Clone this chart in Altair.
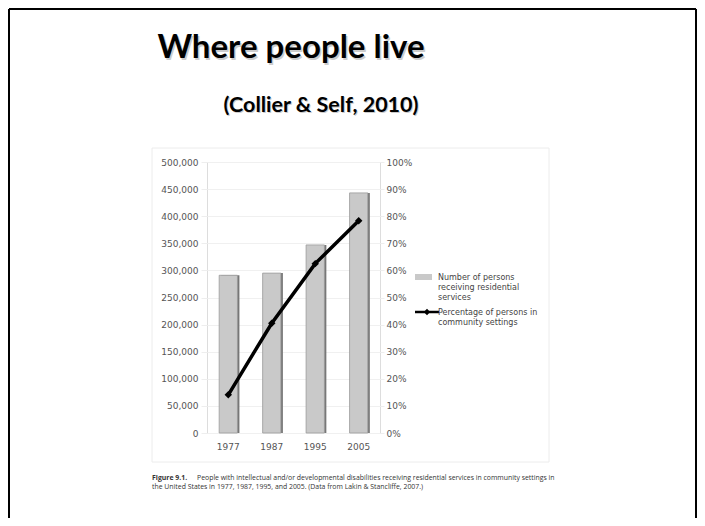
import altair as alt
import pandas as pd

years = ["1977", "1987", "1995", "2005"]
persons = [291000, 295000, 347000, 443000]
percent = [14.1, 40.5, 62.5, 78.3]

title_text = "Where people live"
subtitle_text = "(Collier & Self, 2010)"
legend_labels = [["Number of persons", "receiving residential", "services"],
                 ["Percentage of persons in", "community settings"]]
caption_lines = [
    "People with intellectual and/or developmental disabilities receiving residential services in community settings in",
    "the United States in 1977, 1987, 1995, and 2005. (Data from Lakin & Stancliffe, 2007.)",
]

df = pd.DataFrame({"year": years, "persons": persons, "percent": percent})

W, H = 173, 271
PL, PT = 199, 154
PR = 689 - PL - W
PB = 510 - PT - H

xenc = alt.X("year:N", title=None, sort=years,
             scale=alt.Scale(paddingInner=0.58, paddingOuter=0.28),
             axis=alt.Axis(labelAngle=0, labelFont="DejaVu Sans", labelFontSize=9,
                           labelColor="#555", domain=False, ticks=False, labelPadding=9,
                           grid=False))

yleft = alt.Y("persons:Q", title=None,
              scale=alt.Scale(domain=[0, 500000]),
              axis=alt.Axis(values=list(range(0, 500001, 50000)), format=",d",
                            labelFont="DejaVu Sans", labelFontSize=9, labelColor="#555",
                            domain=False, tickSize=6, tickColor="#eeeeee",
                            labelPadding=3, grid=True, gridColor="#f0f0f0"))

base = alt.Chart(df)

shadow = base.mark_bar(color="#777777", xOffset=2).encode(x=xenc, y=yleft)
bars = base.mark_bar(color="#c9c9c9", stroke="#9a9a9a", strokeWidth=0.8).encode(x=xenc, y=yleft)
left_layer = alt.layer(shadow, bars)

yright = alt.Y("percent:Q", title=None,
               scale=alt.Scale(domain=[0, 100]),
               axis=alt.Axis(orient="right", values=list(range(0, 101, 10)),
                             labelExpr="datum.value + '%'",
                             labelFont="DejaVu Sans", labelFontSize=9, labelColor="#555",
                             domain=False, tickSize=4, tickColor="#eeeeee",
                             labelPadding=2, grid=False))
line = base.mark_line(color="black", strokeWidth=3.5).encode(x=xenc, y=yright)
pts = base.mark_point(shape="diamond", filled=True, size=55, color="black", opacity=1).encode(x=xenc, y=yright)
right_layer = alt.layer(line, pts)

main = alt.layer(left_layer, right_layer).resolve_scale(y="independent")

# decorations (positions are pixel offsets relative to plot area)
def txt(text, x, y, size, weight="normal", color="#000", font="DejaVu Sans", align="left", dx=0, dy=0, opacity=1.0):
    return alt.Chart(pd.DataFrame({"t": [text]})).mark_text(
        align=align, baseline="alphabetic", fontSize=size, fontWeight=weight,
        font=font, color=color, dx=dx, dy=dy, opacity=opacity
    ).encode(x=alt.value(x), y=alt.value(y), text="t:N")

deco = []
# frame box around chart
deco.append(alt.Chart(pd.DataFrame({"a": [0]})).mark_rect(fill=None, stroke="#ececec", strokeWidth=1).encode(
    x=alt.value(-55), x2=alt.value(342), y=alt.value(-14), y2=alt.value(300)))
# slide frame
frame = pd.DataFrame({"a": [0]})
deco.append(alt.Chart(frame).mark_rule(color="black", strokeWidth=2).encode(
    x=alt.value(-PL + 1), x2=alt.value(W + PR - 1), y=alt.value(-PT + 1)))
deco.append(alt.Chart(frame).mark_rule(color="black", strokeWidth=2).encode(
    x=alt.value(-PL + 1), y=alt.value(-PT + 1), y2=alt.value(H + PB)))
deco.append(alt.Chart(frame).mark_rule(color="black", strokeWidth=2).encode(
    x=alt.value(W + PR - 1), y=alt.value(-PT + 1), y2=alt.value(H + PB)))

# titles
deco.append(txt(title_text, 84, -104, 33, "bold", "#9a9a9a", "Lato", "center", dx=1.5, dy=1.5, opacity=0.5))
deco.append(txt(title_text, 84, -104, 33, "bold", "#000", "Lato", "center"))
deco.append(txt(subtitle_text, 114, -50, 21.5, "bold", "#9a9a9a", "Lato", "center", dx=1, dy=1, opacity=0.5))
deco.append(txt(subtitle_text, 114, -50, 21.5, "bold", "#000", "Lato", "center"))

# legend
deco.append(alt.Chart(frame).mark_rect(color="#c9c9c9").encode(
    x=alt.value(208), x2=alt.value(225), y=alt.value(112), y2=alt.value(118)))
for i, s in enumerate(legend_labels[0]):
    deco.append(txt(s, 231, 118 + i * 10, 8, color="#444"))
deco.append(alt.Chart(frame).mark_rule(color="black", strokeWidth=2.5).encode(
    x=alt.value(208), x2=alt.value(232), y=alt.value(150)))
deco.append(alt.Chart(frame).mark_point(shape="diamond", filled=True, size=40, color="black", opacity=1).encode(
    x=alt.value(220), y=alt.value(150)))
for i, s in enumerate(legend_labels[1]):
    deco.append(txt(s, 231, 153 + i * 10, 8, color="#444"))

# caption
deco.append(txt("Figure 9.1.", -55, 318, 6.9, "bold", "#333", "Open Sans"))
deco.append(txt(caption_lines[0], -10, 318, 6.9, "normal", "#333", "Open Sans"))
deco.append(txt(caption_lines[1], -55, 327, 6.9, "normal", "#333", "Open Sans"))

chart = alt.layer(main, *deco).properties(
    width=W, height=H,
    autosize=alt.AutoSizeParams(type="none"),
    padding={"left": PL, "top": PT, "right": PR, "bottom": PB},
).configure_view(stroke=None).configure(background="white")

chart.save("out.html", embed_options={"renderer": "svg", "actions": False})
